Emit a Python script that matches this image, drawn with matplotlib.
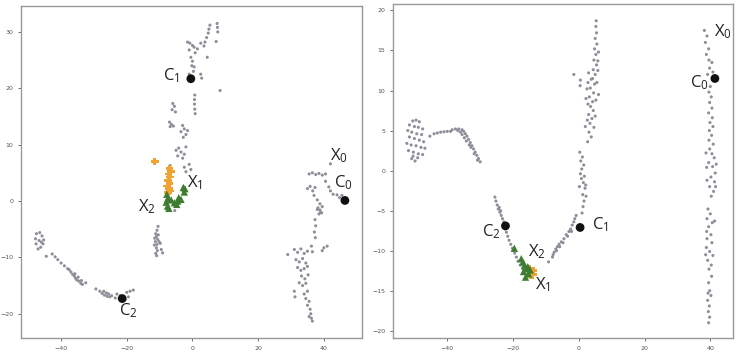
import numpy as np
import matplotlib.pyplot as plt

# ---- left panel data ----
left_gray = [
    # upper stripe
    (7.5, 31.5), (7.6, 30.8), (7.7, 30.0), (5.3, 31.2), (5.0, 30.5), (4.8, 29.8), (4.3, 29.0),
    (3.8, 28.2), (7.2, 28.3), (-1.5, 28.2), (-0.8, 28.0), (0.0, 27.6), (0.5, 27.3), (-1.0, 26.8),
    (1.5, 27.0), (2.5, 28.0), (3.5, 27.5), (0.8, 26.3), (-0.5, 25.5), (0.0, 24.8), (-0.2, 24.0),
    (0.5, 23.8), (0.3, 23.0), (4.5, 25.5), (2.5, 22.5), (2.8, 21.8), (-1.0, 22.5), (8.4, 19.6),
    (0.7, 18.8), (0.6, 18.0), (0.6, 17.2), (0.7, 16.3), (0.8, 15.5), (-6.0, 17.3), (-5.5, 16.8),
    (-6.2, 16.2), (-5.2, 15.8), (-7.0, 14.0), (-6.4, 13.6), (-5.8, 13.3), (-6.8, 13.2),
    (-3.0, 13.4), (-2.5, 12.8), (-3.5, 12.3), (-2.0, 11.8), (-2.8, 11.3), (-1.5, 12.5),
    (-5.0, 9.0), (-4.2, 9.4), (-3.5, 8.7), (-2.5, 8.3), (-4.5, 8.0), (-3.0, 7.6), (-2.0, 9.6),
    (-2.5, 6.0), (-1.0, 6.5), (-0.5, 5.6), (-2.0, 5.2), (-6.8, 6.3), (-5.4, -1.7),
    # middle lower clump
    (-10.5, -4.5), (-10.8, -5.2), (-11.2, -5.8), (-11.0, -6.3), (-10.6, -6.8), (-11.3, -7.2),
    (-10.8, -7.7), (-11.0, -8.3), (-10.7, -8.8), (-11.2, -9.3), (-10.9, -9.7), (-10.4, -6.0),
    (-9.8, -7.5), (-9.5, -8.6), (-9.1, -9.2), (-11.6, -7.8), (-10.2, -7.2), (-11.5, -6.6),
    # bottom-left arm
    (-47.5, -5.8), (-46.5, -5.6), (-45.8, -6.2), (-45.3, -6.9), (-45.5, -7.6), (-46.2, -8.2),
    (-47.0, -8.5), (-47.6, -7.6), (-47.8, -6.7), (-46.7, -7.0), (-46.0, -7.3), (-44.5, -9.8),
    (-42.7, -9.4), (-41.8, -9.9), (-41.0, -10.4), (-40.0, -11.0), (-39.0, -11.5), (-38.0, -12.0),
    (-37.0, -12.6), (-36.5, -13.0), (-36.0, -13.3), (-35.6, -13.7), (-35.2, -14.0), (-34.6, -14.2),
    (-34.0, -14.6), (-33.5, -14.8), (-35.8, -12.9), (-34.8, -13.5), (-33.8, -14.1), (-32.5, -14.5),
    (-37.5, -12.2), (-29.4, -15.6), (-28.2, -16.0), (-27.5, -16.4), (-26.8, -16.7), (-26.0, -16.9),
    (-25.2, -17.0), (-27.0, -16.0), (-26.2, -16.3), (-25.5, -16.5), (-24.6, -16.8), (-23.0, -16.5),
    (-22.0, -16.8), (-20.5, -17.5), (-19.5, -17.0), (-20.0, -16.2), (-19.0, -16.0), (-18.0, -15.8),
    (-23.5, -17.2),
    # right cluster
    (42.0, 6.6), (35.5, 4.8), (36.5, 5.0), (37.5, 4.7), (38.5, 4.9), (39.5, 4.6), (40.5, 4.8),
    (35.0, 2.2), (35.8, 2.6), (36.6, 1.8), (37.3, 2.4), (40.5, 3.5), (41.5, 2.5), (42.0, 1.8),
    (42.8, 1.2), (44.0, 1.1), (44.8, 0.6), (45.5, 1.0), (37.0, 1.0), (38.0, 0.2), (38.8, -0.5),
    (39.5, -1.0), (38.0, -1.5), (39.0, -2.0), (38.2, -1.2), (38.8, -1.6), (39.3, -2.1), (38.5, -2.3),
    (37.3, -3.3), (37.5, -4.4), (37.1, -5.5), (37.4, -6.5), (36.2, -8.0), (36.5, -9.0),
    (40.0, -8.3), (41.0, -8.0), (39.5, -8.8), (29.0, -9.5), (31.0, -8.6), (32.0, -9.1),
    (33.0, -8.5), (34.0, -9.3), (35.0, -8.9), (31.5, -10.4), (32.5, -10.8), (33.5, -10.2),
    (34.5, -11.0), (32.0, -11.8), (33.0, -12.3), (34.0, -12.0), (35.0, -11.6), (33.2, -13.3),
    (34.2, -13.8), (35.2, -13.1), (32.5, -14.5), (33.5, -15.0), (34.5, -14.6), (31.0, -16.0),
    (31.2, -17.0), (34.0, -16.5), (35.0, -16.0), (34.5, -17.3), (35.5, -17.8), (35.0, -18.5),
    (35.8, -19.2), (36.0, -20.0), (36.2, -20.8), (36.5, -21.3), (35.5, -20.5),
]
left_orange = [(-11.5, 7.0), (-7.0, 5.8), (-6.6, 5.2), (-7.3, 4.8), (-6.8, 4.3), (-7.5, 3.6),
               (-7.0, 3.1), (-7.8, 2.7), (-7.2, 2.2), (-6.8, 1.8), (-7.5, 1.5)]
left_green = [(-7.8, 1.2), (-7.5, 0.5), (-8.0, -0.2), (-7.6, -0.9), (-7.2, -1.3), (-6.5, 0.2),
              (-5.5, -0.3), (-4.5, 0.0), (-4.2, 0.6), (-3.5, 0.3), (-2.5, 1.6), (-2.3, 2.2),
              (-2.8, 2.4), (-4.8, -0.6)]
left_centers = [(46.4, 0.1), (-0.5, 21.7), (-21.4, -17.3)]
left_labels = [("C$_1$", -6.5, 22.3), ("X$_0$", 44.5, 8.0), ("C$_0$", 46.0, 3.3),
               ("X$_1$", 0.8, 3.3), ("X$_2$", -14.0, -1.0), ("C$_2$", -19.5, -19.5)]

# ---- right panel data ----
right_gray = [
    # left blob
    (-50.5, 6.2), (-49.5, 6.3), (-48.5, 6.1), (-51.5, 5.7), (-50.0, 5.5), (-48.8, 5.4),
    (-47.5, 5.2), (-52.0, 5.0), (-50.8, 4.8), (-49.3, 4.6), (-47.8, 4.5), (-51.5, 4.2),
    (-50.0, 4.0), (-48.5, 3.8), (-47.2, 3.6), (-52.3, 3.4), (-51.0, 3.2), (-49.5, 3.1),
    (-48.0, 2.9), (-46.8, 2.8), (-51.8, 2.5), (-50.3, 2.3), (-48.8, 2.1), (-47.5, 2.0),
    (-50.8, 1.5), (-49.8, 1.2), (-50.4, 1.8), (-49.0, 1.6),
    # arc
    (-45.3, 4.3), (-44.0, 4.6), (-43.0, 4.7), (-42.0, 4.8), (-41.0, 4.85), (-40.0, 4.9),
    (-39.0, 4.9), (-38.5, 5.1), (-37.5, 5.2), (-36.5, 5.2), (-35.5, 5.1), (-35.0, 4.9),
    (-34.5, 4.6), (-34.0, 4.3), (-33.5, 3.9), (-33.0, 3.5), (-32.5, 3.1), (-32.0, 2.7),
    (-31.5, 2.3), (-31.0, 1.9), (-30.5, 1.5), (-30.0, 1.1), (-36.0, 4.8), (-35.5, 4.5),
    (-34.8, 4.1), (-34.2, 3.7), (-33.3, 3.2), (-32.8, 2.9), (-31.8, 2.1), (-30.8, 1.3),
    (-36.8, 5.0),
    # V left arm
    (-25.5, -3.3), (-25.2, -3.8), (-24.8, -4.3), (-24.5, -4.8), (-24.0, -5.2), (-23.6, -5.6),
    (-23.2, -6.0), (-22.8, -6.4), (-24.2, -4.6), (-23.8, -5.0), (-22.4, -7.3), (-22.0, -7.7),
    (-21.6, -8.2), (-21.2, -8.7), (-20.7, -9.2), (-20.2, -9.7), (-19.5, -10.3), (-19.0, -10.8),
    (-18.5, -11.3), (-17.8, -11.8), (-17.0, -12.3), (-16.3, -12.8), (-15.8, -13.1),
    # V right arm
    (-9.2, -11.4), (-8.0, -10.8), (-7.5, -10.2), (-7.0, -9.8), (-6.5, -9.5), (-6.0, -9.2),
    (-5.3, -8.9), (-4.5, -8.5), (-3.8, -8.0), (-3.0, -7.6), (-2.5, -7.3), (-2.0, -6.8),
    (-1.5, -6.4), (-1.2, -6.0), (-0.8, -5.6), (-7.8, -10.5), (-6.8, -10.0), (-5.8, -9.5),
    (-4.8, -9.0), (-3.4, -8.2), (-2.2, -7.6), (1.0, -5.3), (1.3, -4.5), (1.6, -3.8),
    (1.2, -3.0), (1.9, -2.2), (1.4, -1.5), (0.8, -1.0), (0.5, -0.4), (1.7, -0.7), (0.9, 0.2),
    (1.5, 0.7), (0.6, 1.2), (1.1, 1.7), (0.3, 2.3), (2.1, -1.8), (2.2, -3.2), (0.2, -2.0),
    (0.4, 10.6), (0.5, 11.3), (-1.5, 12.0),
    (5.3, 18.7), (5.2, 18.0), (5.4, 17.2), (5.0, 16.5), (5.5, 15.8), (4.8, 15.2), (5.2, 14.5),
    (4.6, 13.8), (5.4, 13.2), (4.4, 12.6), (5.0, 12.0), (3.8, 11.4), (4.8, 10.8), (3.5, 10.3),
    (4.5, 9.7), (3.2, 9.2), (4.2, 8.6), (3.6, 8.0), (4.4, 7.5), (3.0, 7.0), (4.0, 6.5),
    (3.4, 5.9), (4.6, 5.4), (3.1, 4.8), (3.8, 4.2), (2.7, 3.6), (5.8, 13.7), (6.0, 14.8),
    (5.8, 12.5), (2.5, 10.2), (2.2, 9.0), (2.8, 8.3), (5.5, 11.0), (6.0, 9.5), (5.2, 8.8),
    (2.6, 6.3), (5.0, 6.8), (2.0, 5.5), (4.2, 11.5), (3.0, 12.2), (2.8, 11.0),
    # right column
    (38.2, 17.5), (39.0, 16.8), (38.5, 16.0), (39.5, 15.2), (38.8, 14.5), (39.6, 13.8),
    (40.5, 13.5), (39.8, 12.8), (40.8, 12.3), (39.2, 12.0), (40.0, 10.5), (39.6, 9.8),
    (40.3, 9.2), (39.8, 8.5), (40.5, 7.8), (39.5, 7.2), (40.6, 6.6), (39.9, 6.0), (40.8, 5.5),
    (39.7, 5.0), (40.4, 4.4), (39.6, 3.8), (40.9, 3.3), (39.8, 2.7), (40.5, 2.1), (41.2, 1.6),
    (39.5, 1.0), (40.7, 0.5), (41.5, -0.3), (40.2, -0.8), (41.3, -1.4), (39.8, -2.0),
    (41.0, -2.6), (40.3, -3.2), (41.6, -2.0), (39.0, -1.2), (38.9, 0.4), (38.7, 2.2), (41.8, 0.8),
    (39.3, -4.8), (40.0, -5.4), (39.0, -6.0), (40.6, -6.5), (39.5, -7.0), (38.9, -7.6),
    (40.2, -8.0), (39.0, -8.5), (40.5, -9.0), (38.8, -9.6), (39.8, -10.1), (40.8, -10.6),
    (39.2, -11.2), (40.3, -11.8), (39.6, -12.3), (40.4, -13.2), (39.5, -14.0), (39.8, -15.0),
    (40.2, -15.6), (39.2, -16.2), (39.7, -16.9), (39.4, -17.6), (39.8, -18.3), (39.5, -19.0),
    (39.3, -15.3), (41.3, -6.3), (38.6, -10.5),
]
right_orange = [(-15.0, -12.2), (-14.5, -12.6), (-14.0, -13.0), (-14.8, -13.1), (-13.8, -12.5)]
right_green = [(-19.6, -9.7), (-17.5, -11.0), (-17.0, -11.4), (-16.5, -11.8), (-16.0, -12.2),
               (-15.5, -12.0), (-16.8, -12.6), (-15.3, -12.9), (-16.2, -13.3), (-14.8, -12.4)]
right_centers = [(41.4, 11.5), (0.4, -7.1), (-22.3, -6.9)]
right_labels = [("X$_0$", 43.8, 17.3), ("C$_0$", 36.7, 11.0), ("C$_1$", 6.5, -6.8),
                ("C$_2$", -26.6, -7.6), ("X$_2$", -12.8, -10.1), ("X$_1$", -10.9, -14.3)]

GRAY = '#8e8e9a'
ORANGE = '#f0a232'
GREEN = '#3c7d30'

plt.rcParams['mathtext.fontset'] = 'custom'
plt.rcParams['mathtext.rm'] = 'Open Sans'
plt.rcParams['mathtext.it'] = 'Open Sans'

fig = plt.figure(figsize=(7.42, 3.54), dpi=100)
ax1 = fig.add_axes([21 / 742, 16 / 354, 341 / 742, 332 / 354])
ax2 = fig.add_axes([392.7 / 742, 16 / 354, 340.6 / 742, 334 / 354])


def draw(ax, gray, orange, green, centers, labels):
    g = np.array(gray)
    ax.scatter(g[:, 0], g[:, 1], s=5, c=GRAY, edgecolors='none')
    o = np.array(orange)
    ax.scatter(o[:, 0], o[:, 1], s=30, c=ORANGE, marker='P', edgecolors='none')
    gr = np.array(green)
    ax.scatter(gr[:, 0], gr[:, 1], s=28, c=GREEN, marker='^', edgecolors='none')
    c = np.array(centers)
    ax.scatter(c[:, 0], c[:, 1], s=40, c='#111111', edgecolors='none')
    for txt, x, y in labels:
        ax.text(x, y, txt, fontsize=12, ha='center', va='center', color='#222222',
                family='Open Sans')
    ax.tick_params(labelsize=4.5, colors='#555555', length=2, width=0.6)
    for sp in ax.spines.values():
        sp.set_color('#999999')
        sp.set_linewidth(1.0)


draw(ax1, left_gray, left_orange, left_green, left_centers, left_labels)
ax1.set_xlim(-52.2, 51.6)
ax1.set_ylim(-24.3, 34.6)
ax1.set_xticks([-40, -20, 0, 20, 40])
ax1.set_yticks([-20, -10, 0, 10, 20, 30])

draw(ax2, right_gray, right_orange, right_green, right_centers, right_labels)
ax2.set_xlim(-56.6, 47)
ax2.set_ylim(-20.9, 20.8)
ax2.set_xticks([-40, -20, 0, 20, 40])
ax2.set_yticks([-20, -15, -10, -5, 0, 5, 10, 15, 20])

fig.savefig('out.png', dpi=100)
